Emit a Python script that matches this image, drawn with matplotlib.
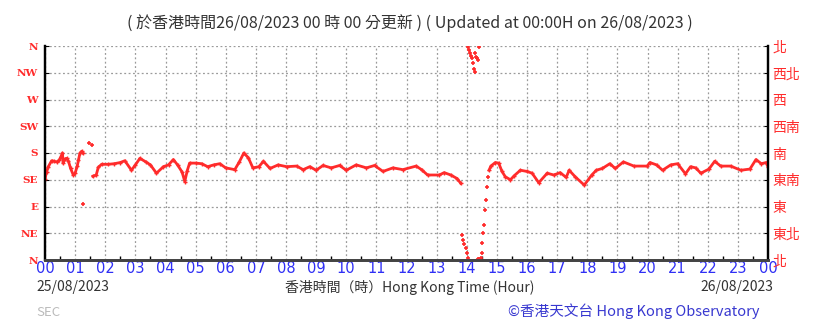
import numpy as np
import matplotlib
matplotlib.use('Agg')
import matplotlib.pyplot as plt
from matplotlib.ticker import MultipleLocator

plt.rcParams['font.family'] = ['Noto Sans CJK TC', 'DejaVu Sans']

nan = float('nan')

# wind direction (degrees, 0 = N) against hour of day
# dense trace, NaN marks a break
hours_trace = [0.0, 0.05, 0.11, 0.22, 0.30, 0.39, 0.47, 0.52, 0.58, 0.60, 0.66, 0.72, 0.78, 0.85,
               0.94, 1.00, 1.07, 1.11, 1.16, 1.22, 1.26, nan,
               1.59, 1.70, 1.77, 1.88, 2.10, 2.30, 2.50, 2.65, 2.87, 3.00, 3.15, 3.35, 3.50, 3.70,
               3.93, 4.10, 4.26, 4.40, 4.55, 4.64, 4.72, 4.80, 5.00, 5.20, 5.40, 5.60, 5.80, 6.00,
               6.30, 6.45, 6.60, 6.75, 6.90, 7.10, 7.25, 7.47, 7.74, 8.02, 8.35, 8.57, 8.79, 9.00,
               9.23, 9.50, 9.78, 10.00, 10.33, 10.67, 10.94, 11.22, 11.55, 11.88, 12.32, 12.50,
               12.70, 13.09, 13.25, 13.47, 13.68, 13.80, nan,
               14.74, 14.80, 14.95, 15.06, 15.17, 15.28, 15.45, 15.58, 15.78, 16.00, 16.17, 16.39,
               16.67, 16.89, 17.10, 17.30, 17.40, 17.60, 17.90, 18.15, 18.30, 18.50, 18.75, 18.93,
               19.20, 19.55, 19.99, 20.08, 20.30, 20.50, 20.77, 21.00, 21.26, 21.43, 21.60, 21.77,
               22.04, 22.23, 22.43, 22.76, 23.10, 23.40, 23.60, 23.78, 23.94, 24.00]
dir_trace = [136, 148, 157, 167, 166, 165, 168, 173, 180, 163, 170, 171, 166, 154,
             143, 146, 158, 168, 180, 183, 180, nan,
             141, 143, 156, 161, 161, 162, 164, 167, 151, 160, 171, 165, 160, 146,
             157, 160, 169, 160, 148, 132, 150, 163, 163, 162, 157, 160, 162, 155,
             152, 165, 180, 172, 155, 157, 166, 154, 160, 157, 158, 152, 157, 151,
             159, 155, 159, 151, 160, 155, 159, 149, 155, 152, 158, 152,
             143, 143, 147, 143, 137, 129, nan,
             151, 158, 164, 163, 149, 140, 135, 142, 151, 149, 146, 130,
             146, 143, 147, 139, 151, 140, 126, 143, 151, 154, 162, 154,
             165, 158, 158, 164, 160, 151, 160, 162, 145, 157, 155, 146,
             153, 166, 158, 158, 151, 153, 169, 162, 164, 157]

# isolated readings (sparse dots)
hours_dots = [1.27, 1.46, 1.55,
              13.83, 13.87, 13.92, 13.96, 14.00, 14.03,
              14.03, 14.07, 14.10, 14.14, 14.17, 14.20, 14.24, 14.27,
              14.27, 14.31, 14.35, 14.39, 14.42,
              14.38, 14.42, 14.46,
              14.50, 14.52, 14.54, 14.56, 14.60, 14.63, 14.66, 14.70]
dir_dots = [94, 197, 193,
            42, 34, 27, 20, 11, 3,
            358, 353, 348, 343, 339, 331, 322, 316,
            348, 342, 339, 337, 359,
            2, 2, 3,
            11, 28, 45, 59, 84, 101, 123, 140]

dir_labels_en = ['N', 'NE', 'E', 'SE', 'S', 'SW', 'W', 'NW', 'N']
dir_labels_zh = ['北', '東北', '東', '東南', '南', '西南', '西', '西北', '北']
hour_labels = ['%02d' % (h % 24) for h in range(25)]

RED = '#ff2b2b'
BLUE = '#2f2ff5'
DARK = '#333333'

fig = plt.figure(figsize=(8.19, 3.23), dpi=100)
ax = fig.add_axes([45 / 819, 1 - 260 / 323, 723 / 819, 214 / 323])

ax.plot(hours_trace, dir_trace, color=RED, lw=2.0, marker='+', ms=3.5, mew=1.0,
        solid_joinstyle='round', zorder=3)
ax.plot(hours_dots, dir_dots, ls='none', color=RED, marker='+', ms=3.5, mew=1.2, zorder=3)

ax.set_xlim(0, 24)
ax.set_ylim(0, 360)
ax.set_xticks(range(25))
ax.set_xticklabels(hour_labels, color=BLUE, fontsize=10.5, family=['DejaVu Sans'])
ax.xaxis.set_minor_locator(MultipleLocator(0.5))
ax.tick_params(axis='x', which='major', length=0, pad=1)
ax.tick_params(axis='x', which='minor', length=3, direction='in', color='black', width=1)

ax.set_yticks(np.arange(0, 361, 45))
ax.set_yticklabels(dir_labels_en, color=RED, fontsize=7.5, fontweight='bold',
                   family=['DejaVu Serif'])
ax.tick_params(axis='y', length=3, direction='in', pad=5)

ax.grid(True, color='#9a9a9a', ls=(0, (1.5, 2)), lw=0.9)

ax2 = ax.twinx()
ax2.set_ylim(0, 360)
ax2.set_yticks(np.arange(0, 361, 45))
ax2.set_yticklabels(dir_labels_zh, color=RED, fontsize=10)
ax2.tick_params(axis='y', length=3, direction='in', pad=3)

for a in (ax, ax2):
    a.spines['top'].set_visible(False)
    a.spines['left'].set_color('black')
    a.spines['left'].set_linewidth(1.6)
    a.spines['right'].set_color('black')
    a.spines['right'].set_linewidth(1.6)
    a.spines['bottom'].set_color('#444444')
    a.spines['bottom'].set_linewidth(2.0)

fig.text(0.5, 1 - 23 / 323,
         '( 於香港時間26/08/2023 00 時 00 分更新 ) ( Updated at 00:00H on 26/08/2023 )',
         ha='center', va='center', fontsize=11.5, color=DARK)
fig.text(36 / 819, 1 - 287 / 323, '25/08/2023', ha='left', va='center', fontsize=10, color=DARK)
fig.text(773 / 819, 1 - 287 / 323, '26/08/2023', ha='right', va='center', fontsize=10, color=DARK)
fig.text(410 / 819, 1 - 287 / 323, '香港時間（時）Hong Kong Time (Hour)',
         ha='center', va='center', fontsize=10, color=DARK)
fig.text(36 / 819, 1 - 313 / 323, 'SEC', ha='left', va='center', fontsize=9.5, color='#bbbbbb')
fig.text(760 / 819, 1 - 311 / 323, '©香港天文台 Hong Kong Observatory',
         ha='right', va='center', fontsize=10.5, color='#3838d0')

fig.savefig('out.png', dpi=100)
